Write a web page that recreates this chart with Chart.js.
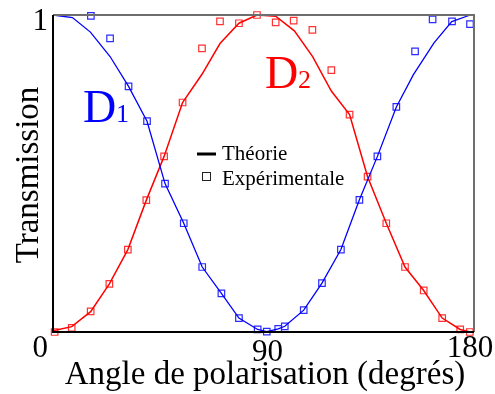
<!DOCTYPE html>
<html>
<head>
<meta charset="utf-8">
<script src="https://cdn.jsdelivr.net/npm/chart.js@4/dist/chart.umd.min.js"></script>
<style>
  html, body { margin: 0; padding: 0; background: #fff; }
  #wrap { width: 495px; height: 394px; }
</style>
</head>
<body>
<div id="wrap"><canvas id="chart" width="495" height="394"></canvas></div>
<script>
// ── courbes théoriques (angle en degrés, transmission) ──
const thD1X = [0, 8.3, 16, 24.4, 32.3, 40.2, 47.9, 55.9, 63.8, 72, 79.5, 87.5, 91.4, 96.3, 99.1, 107.2, 115, 123.1, 131, 138.7, 146.8, 154.1, 162.9, 170.5, 178.4];
const thD1Y = [1, 0.992, 0.946, 0.869, 0.775, 0.665, 0.468, 0.343, 0.205, 0.122, 0.044, 0.008, 0.001, 0.01, 0.018, 0.069, 0.154, 0.26, 0.417, 0.554, 0.71, 0.812, 0.912, 0.979, 1];
const thD2X = [0, 8, 16.1, 24.1, 32, 39.9, 47.5, 55.4, 63.7, 71.4, 79.5, 87.2, 95.2, 103.2, 111, 119, 126.8, 134.5, 142.5, 150.5, 158.5, 166.4, 174.1, 178.2];
const thD2Y = [0.004, 0.017, 0.064, 0.152, 0.26, 0.416, 0.554, 0.724, 0.813, 0.91, 0.974, 1, 0.996, 0.95, 0.869, 0.76, 0.686, 0.49, 0.343, 0.205, 0.131, 0.044, 0.008, 0];

// ── mesures ──
const expD1X = [16.2, 24.4, 32.3, 40.2, 47.9, 55.9, 63.8, 72, 79.5, 87.5, 91.4, 96.3, 99.1, 107.2, 115, 123.1, 131, 138.7, 146.8, 154.8, 162.3, 170.6, 178.3];
const expD1Y = [0.997, 0.926, 0.775, 0.665, 0.468, 0.343, 0.205, 0.122, 0.044, 0.008, 0.001, 0.01, 0.018, 0.069, 0.154, 0.26, 0.417, 0.554, 0.71, 0.885, 0.986, 0.98, 0.971];
const expD2X = [0.7, 8, 16.1, 24.1, 32, 39.9, 47.5, 55.4, 63.7, 71.4, 79.5, 87.2, 95.2, 102.9, 110.9, 119, 126.8, 134.5, 142.5, 150.5, 158.5, 166.4, 174.1, 178.2];
const expD2Y = [0, 0.013, 0.065, 0.152, 0.26, 0.416, 0.554, 0.724, 0.895, 0.98, 0.974, 1, 0.977, 0.982, 0.953, 0.826, 0.686, 0.49, 0.343, 0.205, 0.131, 0.044, 0.008, 0];

const xTicks = [0, 90, 180];
const yTicks = [0, 1];

const pts = (xs, ys) => xs.map((x, i) => ({ x, y: ys[i] }));
const SERIF = '"Liberation Serif", "DejaVu Serif", serif';

// cadre, graduations, titres, étiquettes D1/D2 et légende
const decor = {
  id: 'decor',
  afterDraw(chart) {
    const { ctx, chartArea: a, scales: { x, y } } = chart;
    ctx.save();
    // cadre : haut et droite en gris, gauche et bas en noir
    ctx.lineWidth = 2;
    ctx.strokeStyle = '#6e6e6e';
    ctx.beginPath();
    ctx.moveTo(a.left, a.top); ctx.lineTo(a.right, a.top); ctx.lineTo(a.right, a.bottom);
    ctx.stroke();
    ctx.strokeStyle = '#000';
    ctx.beginPath();
    ctx.moveTo(a.left, a.top); ctx.lineTo(a.left, a.bottom); ctx.lineTo(a.right, a.bottom);
    ctx.stroke();

    ctx.fillStyle = '#000';
    ctx.font = `31px ${SERIF}`;
    ctx.textBaseline = 'alphabetic';
    // graduations de l'axe y (le 0 sert aussi pour l'axe x)
    ctx.textAlign = 'right';
    ctx.fillText(String(yTicks[1]), a.left - 5, y.getPixelForValue(yTicks[1]) + 15);
    ctx.fillText(String(yTicks[0]), a.left - 5, y.getPixelForValue(yTicks[0]) + 25);
    ctx.textAlign = 'center';
    ctx.fillText(String(xTicks[1]), x.getPixelForValue(xTicks[1]) + 4, a.bottom + 29);
    ctx.fillText(String(xTicks[2]), x.getPixelForValue(xTicks[2]) - 4, a.bottom + 25);

    // titres des axes
    ctx.font = `33px ${SERIF}`;
    ctx.fillText('Angle de polarisation (degrés)', 265, 384);
    ctx.save();
    ctx.translate(38, 175);
    ctx.rotate(-Math.PI / 2);
    ctx.fillText('Transmission', 0, 0);
    ctx.restore();

    // noms des détecteurs
    ctx.textAlign = 'left';
    ctx.fillStyle = '#0000ff';
    ctx.font = `46px ${SERIF}`;
    ctx.fillText('D', 83, 122);
    ctx.font = `26px ${SERIF}`;
    ctx.fillText('1', 116, 122);
    ctx.fillStyle = '#ff0000';
    ctx.font = `46px ${SERIF}`;
    ctx.fillText('D', 265, 88);
    ctx.font = `26px ${SERIF}`;
    ctx.fillText('2', 298, 88);

    // légende
    ctx.fillStyle = '#000';
    ctx.strokeStyle = '#000';
    ctx.lineWidth = 3;
    ctx.beginPath(); ctx.moveTo(197, 154); ctx.lineTo(216, 154); ctx.stroke();
    ctx.lineWidth = 1;
    ctx.strokeStyle = '#222';
    ctx.strokeRect(202.5, 172.5, 8, 8);
    ctx.font = `21px ${SERIF}`;
    ctx.fillText('Théorie', 222, 160);
    ctx.fillText('Expérimentale', 222, 185);
    ctx.restore();
  }
};

const hiddenAxis = (min, max, fit) => ({
  type: 'linear', min, max,
  ticks: { display: false },
  grid: { display: false, drawTicks: false },
  border: { display: false },
  afterFit: fit
});

new Chart(document.getElementById('chart'), {
  type: 'scatter',
  data: {
    datasets: [
      { data: pts(thD1X, thD1Y), showLine: true, borderColor: '#0000ff', borderWidth: 1.3, pointRadius: 0, clip: false },
      { data: pts(thD2X, thD2Y), showLine: true, borderColor: '#ff0000', borderWidth: 1.5, pointRadius: 0, clip: false },
      { data: pts(expD1X, expD1Y), pointStyle: 'rect', pointRadius: 4.6, borderColor: '#2b2bff', borderWidth: 1.2,
        backgroundColor: 'rgba(0,0,0,0)', clip: false },
      { data: pts(expD2X, expD2Y), pointStyle: 'rect', pointRadius: 4.6, borderColor: '#ff3333', borderWidth: 1.2,
        backgroundColor: 'rgba(0,0,0,0)', clip: false }
    ]
  },
  options: {
    responsive: false,
    animation: false,
    layout: { padding: { top: 15, right: 21, left: 0, bottom: 0 } },
    plugins: { legend: { display: false }, tooltip: { enabled: false } },
    scales: {
      x: hiddenAxis(0, 180, s => { s.height = 62; }),
      y: hiddenAxis(0, 1, s => { s.width = 53; })
    }
  },
  plugins: [decor]
});
</script>
</body>
</html>
